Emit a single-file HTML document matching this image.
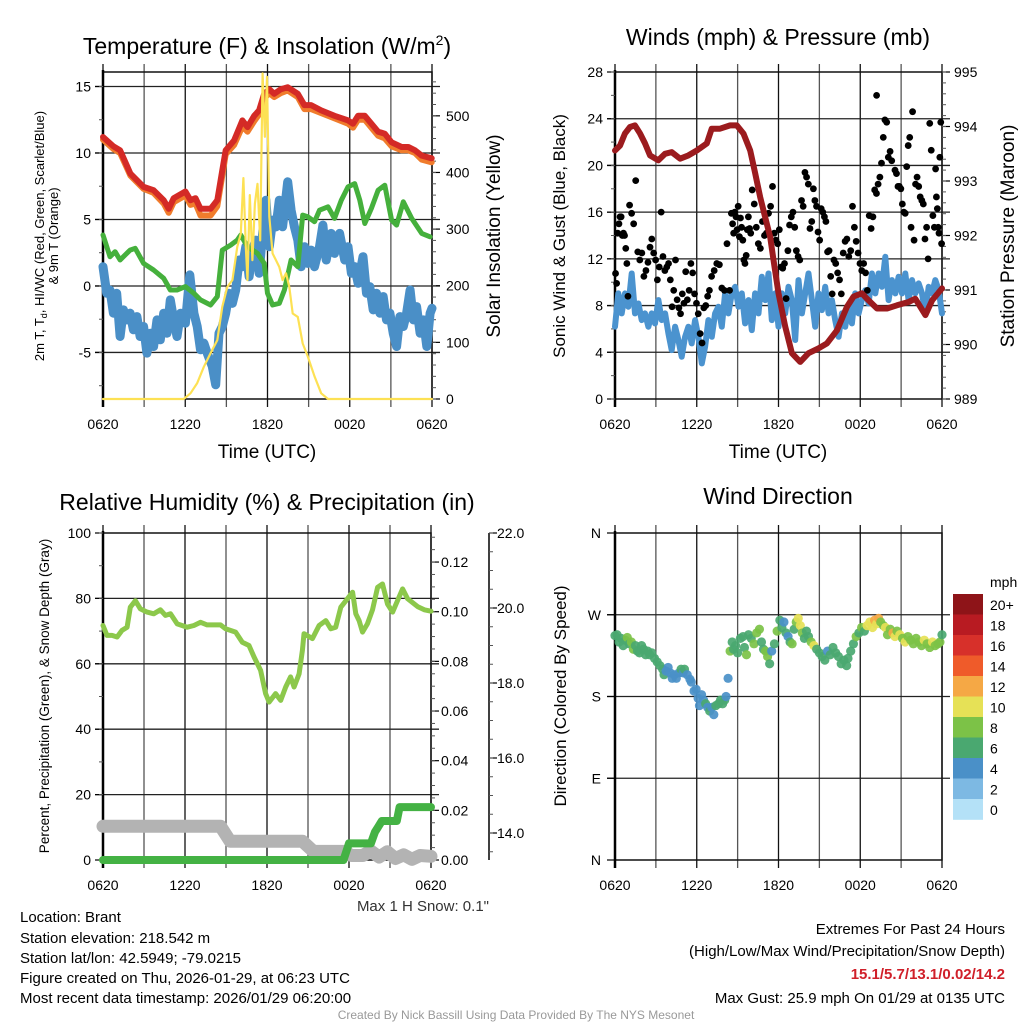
<!DOCTYPE html>
<html><head><meta charset="utf-8"><style>
html,body{margin:0;padding:0;background:#fff;}
svg{display:block;font-family:"Liberation Sans",Arial,sans-serif;}
</style></head><body>
<svg id="fig" width="1024" height="1024" viewBox="0 0 1024 1024" xmlns="http://www.w3.org/2000/svg">
<rect width="1024" height="1024" fill="#fff"/>
<text x="267" y="54" font-size="23" text-anchor="middle">Temperature (F) &amp; Insolation (W/m<tspan font-size="14" dy="-9">2</tspan><tspan dy="9">)</tspan></text>
<text x="778" y="45" font-size="23" text-anchor="middle">Winds (mph) &amp; Pressure (mb)</text>
<text x="267" y="510" font-size="23" text-anchor="middle">Relative Humidity (%) &amp; Precipitation (in)</text>
<text x="778" y="504" font-size="23" text-anchor="middle">Wind Direction</text>
<text x="267" y="458" font-size="19" text-anchor="middle">Time (UTC)</text>
<text x="778" y="458" font-size="19" text-anchor="middle">Time (UTC)</text>
<text transform="translate(44,236) rotate(-90)" font-size="13" text-anchor="middle">2m T, T<tspan font-size="9" dy="3">d</tspan><tspan dy="-3">, HI/WC (Red, Green, Scarlet/Blue)</tspan></text>
<text transform="translate(58,236) rotate(-90)" font-size="13" text-anchor="middle">&amp; 9m T (Orange)</text>
<text transform="translate(500,236) rotate(-90)" font-size="19" text-anchor="middle">Solar Insolation (Yellow)</text>
<text transform="translate(565,236) rotate(-90)" font-size="17" text-anchor="middle">Sonic Wind &amp; Gust (Blue, Black)</text>
<text transform="translate(1014,236) rotate(-90)" font-size="19" text-anchor="middle">Station Pressure (Maroon)</text>
<text transform="translate(49,696) rotate(-90)" font-size="13.5" text-anchor="middle">Percent, Precipitation (Green), &amp; Snow Depth (Gray)</text>
<text transform="translate(566,696) rotate(-90)" font-size="17" text-anchor="middle">Direction (Colored By Speed)</text>
<text x="489" y="911" font-size="15" text-anchor="end" fill="#333">Max 1 H Snow: 0.1"</text>
<g font-size="15">
<text x="20" y="922">Location: Brant</text>
<text x="20" y="943">Station elevation: 218.542 m</text>
<text x="20" y="963">Station lat/lon: 42.5949; -79.0215</text>
<text x="20" y="983">Figure created on Thu, 2026-01-29, at 06:23 UTC</text>
<text x="20" y="1003">Most recent data timestamp: 2026/01/29 06:20:00</text>
</g>
<g font-size="15" text-anchor="end">
<text x="1005" y="934">Extremes For Past 24 Hours</text>
<text x="1005" y="956">(High/Low/Max Wind/Precipitation/Snow Depth)</text>
<text x="1005" y="979" fill="#d0202a" font-weight="bold">15.1/5.7/13.1/0.02/14.2</text>
<text x="1005" y="1003">Max Gust: 25.9 mph On 01/29 at 0135 UTC</text>
</g>
<text x="516" y="1019" font-size="12" fill="#999" text-anchor="middle">Created By Nick Bassill Using Data Provided By The NYS Mesonet</text>
</svg>
<script>
// ---------- data ----------
const xTickLabels = ['0620','1220','1820','0020','0620'];
const xTickHours = [0,6,12,18,24];

const redHours = [0,0.76,1.25,2.0,2.96,3.69,4.43,4.79,5.16,6.01,6.38,6.75,7.11,7.85,8.34,8.70,8.95,9.56,10.17,10.54,11.03,11.39,11.76,12.13,12.49,12.98,13.47,14.21,14.69,15.18,15.92,16.89,17.87,18.24,18.61,19.1,19.58,20.07,20.56,21.05,21.78,22.27,22.76,23.25,23.98];
const redTemps = [11.2,10.5,10.2,8.45,7.45,7.2,6.45,5.8,6.6,7.1,6.45,6.6,5.8,5.8,6.45,8.7,10.2,10.95,12.45,11.95,12.8,13.2,14.45,14.8,14.45,14.8,14.95,14.45,13.6,13.6,13.2,12.8,12.45,12.2,12.8,12.8,12.2,11.6,11.45,10.8,10.45,10.45,10.2,9.8,9.6];
const orangeTemps = [11.0,10.3,10.0,8.3,7.3,7.0,6.2,5.5,6.3,6.8,6.1,6.2,5.3,5.3,6.0,8.3,9.9,10.6,12.0,11.6,12.4,12.9,14.1,14.5,14.2,14.5,14.7,14.2,13.3,13.3,13.0,12.6,12.2,11.9,12.5,12.5,11.9,11.3,11.1,10.5,10.2,10.2,10.0,9.5,9.3];

const greenHours = [0,0.51,0.88,1.25,1.61,1.98,2.35,2.96,3.69,4.43,4.91,5.40,6.01,6.63,7.11,7.85,8.34,8.70,9.32,9.80,10.05,10.54,11.27,11.76,12.0,12.37,12.86,13.23,13.72,14.21,14.57,14.94,15.43,15.79,16.41,16.89,17.38,17.87,18.36,18.73,19.1,19.58,20.07,20.56,21.05,21.42,21.91,22.52,23.25,23.86];
const greenTemps = [3.83,2.2,2.58,1.95,2.33,2.7,2.83,1.7,1.2,0.58,-0.3,-0.3,-0.05,-0.55,-1.05,-1.43,-0.8,2.7,3.08,3.45,3.83,2.95,2.45,1.7,-0.55,-1.43,-1.3,-0.3,1.95,1.45,5.33,5.2,4.83,5.7,5.95,5.08,6.45,7.45,7.7,6.45,4.7,5.83,7.2,7.58,4.95,4.58,6.33,5.08,3.95,3.7];

const blueHours = [0,0.27,0.51,0.76,1.0,1.25,1.49,1.74,1.98,2.22,2.47,2.71,2.96,3.2,3.45,3.69,3.94,4.18,4.43,4.67,4.91,5.16,5.4,5.65,6.01,6.33,6.63,6.87,7.11,7.36,7.6,7.97,8.22,8.46,8.7,8.95,9.19,9.44,9.68,9.93,10.17,10.42,10.66,10.9,11.15,11.39,11.64,11.88,12.13,12.37,12.62,12.86,13.1,13.47,13.72,13.96,14.21,14.45,14.69,14.94,15.18,15.43,15.79,16.04,16.28,16.65,16.89,17.26,17.63,17.87,18.12,18.36,18.61,18.97,19.22,19.46,19.71,19.95,20.2,20.44,20.68,20.93,21.17,21.42,21.66,21.91,22.15,22.4,22.64,22.88,23.13,23.37,23.62,23.86,24];
const blueTemps = [1.45,-0.55,-0.3,-2.05,-0.55,-3.8,-1.8,-2.55,-2.05,-3.3,-2.3,-3.8,-3.05,-5.05,-3.55,-4.55,-2.55,-4.05,-2.05,-3.55,-1.05,-2.55,-3.8,-2.05,-2.8,0.83,-2.05,-3.05,-4.8,-4.3,-5.05,-6.05,-7.43,-3.55,-3.05,-2.05,-0.55,-1.3,-0.3,1.95,1.45,2.95,0.7,2.7,3.45,0.95,3.95,6.45,2.95,4.95,4.45,6.45,4.45,7.83,5.7,4.45,3.45,1.45,2.95,1.7,2.7,1.45,2.95,4.58,1.95,3.95,2.45,3.95,1.95,2.95,0.95,1.45,0.2,2.2,-0.55,-0.05,-1.8,-0.55,-2.05,-0.8,-2.55,-2.05,-3.55,-4.55,-2.3,-3.05,-2.05,-0.3,-2.55,-1.55,-3.55,-2.55,-4.55,-2.05,-1.68];

const solarHours = [0,5.89,6.38,6.87,7.36,7.85,8.34,8.7,9.07,9.44,9.8,10.05,10.24,10.42,10.54,10.71,10.9,11.08,11.27,11.47,11.64,11.81,11.96,12.13,12.37,12.62,12.86,13.1,13.35,13.59,13.84,14.21,14.57,14.94,15.43,15.92,16.41,24];
const solarValues = [0,0,10,28,57,81,104,163,198,210,269,292,390,269,210,360,245,345,380,280,575,463,569,322,257,245,233,210,222,198,151,145,98,75,40,10,0,0];

const pressHours = [0,0.37,0.73,1.1,1.47,1.84,2.2,2.57,3.18,3.67,4.16,4.78,5.39,6.0,6.74,7.1,7.71,8.45,8.94,9.43,9.92,10.29,10.65,11.02,11.39,11.63,12.0,12.49,12.98,13.59,14.2,14.94,15.55,16.29,17.02,17.51,18.12,18.49,19.23,19.96,20.7,21.55,22.04,22.78,23.27,24];
const pressValues = [993.56,993.65,993.87,993.99,994.02,993.87,993.69,993.47,993.38,993.5,993.53,993.41,993.47,993.56,993.69,993.96,993.96,994.02,994.02,993.87,993.56,993.14,992.71,992.34,991.97,991.55,990.94,990.33,989.84,989.68,989.84,989.93,990.02,990.26,990.69,990.88,990.94,990.84,990.66,990.66,990.72,990.78,990.84,990.54,990.81,991.03];

const windSpeeds = [6.19,9.04,7.33,9.04,7.9,10.75,7.33,8.18,6.76,7.33,
6.19,7.33,6.47,8.47,6.76,7.33,5.62,4.19,6.19,5.05,
3.62,5.33,6.19,4.76,6.76,5.33,3.05,4.48,6.76,5.33,
7.33,7.9,6.19,9.04,7.33,9.04,9.61,7.9,9.04,6.47,
8.47,5.9,9.04,7.33,10.46,8.47,10.75,6.76,9.04,6.19,
9.04,7.33,9.61,8.47,5.05,10.18,7.33,9.04,10.75,8.47,
6.19,9.04,7.61,9.61,7.33,8.47,6.76,5.33,7.33,6.19,
7.9,6.47,9.04,7.33,8.47,9.32,8.18,10.75,9.04,10.75,
9.61,12.18,8.47,10.18,9.04,10.46,9.04,10.75,8.47,10.18,
9.04,9.9,9.04,7.33,9.61,9.04,10.18,9.32,7.33];

const gustHours = [0.04,0.12,0.2,0.29,0.37,0.45,0.54,0.62,0.7,0.79,0.87,0.95,
1.07,1.22,1.37,1.52,1.67,1.82,1.97,2.12,2.27,2.42,
2.57,2.7,2.84,2.98,3.11,3.25,3.39,3.52,3.66,3.8,3.93,
4.06,4.19,4.31,4.44,4.56,4.69,4.81,4.94,5.06,5.19,5.31,5.44,
5.57,5.7,5.84,5.98,6.11,6.25,6.39,6.52,6.66,6.8,6.93,
7.09,7.28,7.47,7.66,7.84,8.03,8.22,8.41,
8.54,8.63,8.71,8.79,8.88,8.96,9.04,9.13,9.21,9.29,9.38,9.46,9.54,9.63,9.71,9.79,9.88,9.96,
10.07,10.22,10.37,10.52,10.67,10.82,10.97,11.12,11.27,11.42,
11.56,11.69,11.81,11.94,12.06,12.19,12.31,12.44,12.56,12.69,12.81,12.94,
13.06,13.19,13.31,13.44,13.56,13.69,13.81,13.94,14.06,14.19,14.31,14.44,
14.56,14.67,14.79,14.9,15.02,15.13,15.25,15.37,15.48,15.6,15.71,15.83,15.94,
16.07,16.2,16.34,16.48,16.61,16.75,16.89,17.02,17.16,17.3,17.43,
17.57,17.7,17.84,17.98,18.11,18.25,18.39,18.52,18.66,18.8,18.93,
19.06,19.19,19.31,19.44,19.56,19.69,19.81,19.94,20.06,20.19,20.31,19.2,
20.55,20.66,20.77,20.87,20.98,21.09,21.2,21.3,21.41,21.52,21.63,21.73,21.84,21.95,
22.06,22.17,22.29,22.4,22.52,22.63,22.75,22.87,22.98,23.1,23.21,23.33,23.44,
23.53,23.59,23.66,23.72,23.78,23.84,23.91,23.97];
const gustSpeeds = [10.75,9.9,14.2,15.0,15.6,15.6,14.0,14.2,14.0,12.9,11.6,8.8,
16.6,15.9,15.0,18.7,12.6,11.9,12.5,10.5,11.0,11.7,
13.0,13.7,12.5,11.9,10.2,11.3,16.0,12.2,11.0,11.3,11.6,
10.2,7.9,9.3,11.9,8.5,7.8,7.3,9.0,8.2,10.9,8.5,9.3,
11.6,10.8,9.0,8.2,7.3,5.6,4.8,7.8,8.0,8.8,9.3,
10.5,11.0,11.6,11.5,9.5,9.3,13.3,9.3,
15.9,15.0,14.2,16.0,15.6,14.5,16.5,13.9,15.5,14.7,13.6,11.9,11.6,12.3,14.5,15.6,14.6,14.2,
17.9,16.7,14.7,13.3,12.9,15.2,14.0,14.2,15.9,16.5,
18.2,14.2,13.6,13.3,14.5,11.3,11.2,11.6,8.6,12.7,14.9,15.6,
16.0,14.7,12.7,12.2,11.9,17.0,16.5,19.4,19.0,18.4,14.6,15.2,
18.0,17.0,16.5,14.3,13.6,16.3,16.0,15.6,15.2,12.6,12.7,10.5,9.0,
11.9,11.6,10.8,10.2,9.0,12.5,13.5,13.7,12.2,12.7,16.5,
14.7,13.5,12.5,11.6,11.0,11.6,10.8,9.3,15.7,14.6,15.6,
17.9,17.6,18.4,19.0,20.2,22.4,23.9,23.7,20.7,21.2,20.4,26.0,
19.6,19.3,18.2,18.2,18.0,16.7,16.0,15.9,19.9,21.7,22.4,14.7,24.6,13.6,
18.4,19.0,18.2,17.3,17.0,16.7,13.7,14.7,12.0,23.6,21.3,15.7,14.7,
19.7,17.3,16.3,14.7,14.2,20.7,23.7,13.3];

const rhHours = [0,0.29,0.66,1.03,1.39,1.76,2.0,2.37,2.74,3.23,3.71,4.2,4.57,4.94,5.43,6.16,6.65,7.14,7.62,8.6,8.97,9.7,10.19,10.68,11.05,11.53,11.9,12.15,12.63,13.0,13.37,13.73,13.98,14.35,14.59,14.71,15.32,15.81,16.3,16.67,17.03,17.4,17.89,18.26,18.5,18.74,18.99,19.35,19.72,20.09,20.45,20.82,21.19,21.55,21.92,22.29,23.02,23.51,24];
const rhValues = [71.7,68.7,68.7,68.2,70.2,71.2,77.3,79.3,76.8,75.8,75.3,76.5,74.8,75.3,72.2,71.2,71.7,72.7,71.9,71.9,70.7,69.7,66.6,65.6,62.1,58.0,50.9,48.3,50.9,48.8,52.9,56.0,52.9,56.9,64.1,69.2,67.7,71.7,73.2,70.7,71.2,77.3,79.9,81.9,75.3,73.2,69.7,72.2,76.5,83.4,84.4,78.3,75.8,79.3,82.9,79.9,77.5,76.5,76.1];

const precipHours = [0,17.6,18.0,19.6,19.9,20.1,20.4,21.5,21.7,24];
const precipValues = [0,0,0.0067,0.0067,0.0113,0.013,0.0157,0.0157,0.0213,0.0213];

const snowHours = [0,8.6,9.3,14.6,15.4,17.6,18.2,19.0,19.6,20.2,20.8,21.4,22.0,22.6,23.2,24];
const snowDepths = [14.18,14.18,13.78,13.78,13.51,13.51,13.4,13.4,13.52,13.36,13.5,13.32,13.42,13.3,13.4,13.38];

const dirHours = [0,0.15,0.3,0.45,0.6,0.75,0.9,1.05,1.2,1.35,1.5,1.65,1.8,1.95,2.1,2.25,2.4,2.55,2.7,2.9,3.1,3.3,3.5,3.6,3.75,3.9,4.05,4.2,4.35,4.5,4.7,4.85,5.0,5.1,5.3,5.5,5.6,5.8,5.95,6.1,6.2,6.35,6.5,6.65,6.8,6.95,7.1,7.25,7.4,7.6,7.75,7.9,8.05,8.15,8.3,8.45,8.6,8.7,8.85,9.0,9.2,9.4,9.5,9.65,9.8,10.0,10.2,10.4,10.6,10.75,10.9,11.05,11.2,11.35,11.5,11.7,11.9,12.1,12.25,12.4,12.55,12.7,12.85,13.0,13.15,13.3,13.45,13.6,13.75,13.9,14.05,14.2,14.4,14.6,14.8,15.0,15.2,15.4,15.6,15.8,16.0,16.2,16.4,16.6,16.8,17.0,17.1,17.3,17.5,17.7,17.9,18.1,18.3,18.5,18.7,18.9,19.05,19.2,19.35,19.5,19.7,19.85,20.0,20.2,20.4,20.55,20.7,20.9,21.1,21.3,21.5,21.7,21.9,22.1,22.3,22.5,22.7,22.9,23.1,23.3,23.5,23.7,23.85,24.0];
const dirDegrees = [247,248,240,244,236,242,245,238,240,232,236,230,228,236,232,226,230,226,228,222,218,214,210,204,208,212,206,200,204,200,206,210,206,210,204,199,196,186,188,178,170,182,176,172,168,164,168,160,170,172,176,172,176,180,200,230,240,232,236,228,244,246,234,226,248,244,238,250,254,240,232,230,224,216,230,238,252,264,256,262,250,246,240,238,254,262,266,258,250,244,252,246,240,236,232,228,224,220,230,226,234,228,224,216,220,214,222,230,238,246,250,256,252,258,262,256,264,260,266,262,258,256,248,254,250,246,252,248,244,240,246,242,238,244,240,236,242,238,234,240,236,238,240,248];
const dirSpeeds = [6,6,7,7,6,7,8,7,9,9,7,6,6,7,6,6,7,7,6,6,6,7,6,6,4,5,4,4,5,4,5,6,5,6,5,4,4,4,4,4,4,5,5,6,5,6,5,4,6,7,6,6,6,4,5,9,6,7,7,6,7,6,7,8,6,7,8,9,9,6,7,8,8,7,5,7,9,6,6,5,7,5,6,9,7,8,10,11,8,7,6,6,8,10,7,6,6,6,5,6,6,7,6,6,6,6,7,6,6,8,7,9,7,10,11,10,12,10,13,9,8,10,9,8,12,10,9,10,9,10,8,9,8,9,9,8,10,9,8,10,9,8,9,6];

const speedColors = ['#b4e1f7','#7db9e3','#4a90c8','#4aa870','#7cc247','#e6e156','#f5a845','#ef5b2a','#d7302a','#b81b22','#8e1418'];
const speedLabels = ['0','2','4','6','8','10','12','14','16','18','20+'];

// ---------- helpers ----------
const NS='http://www.w3.org/2000/svg';
const svg=document.getElementById('fig');
function mk(tag,attrs,parent){const e=document.createElementNS(NS,tag);for(const k in attrs)e.setAttribute(k,attrs[k]);(parent||svg).appendChild(e);return e;}
function panel(x0,x1,y0,y1){return {x0,x1,y0,y1};}
const P1=panel(103,432,72,399), P2=panel(615,942,72,399), P3=panel(103,431,533,860), P4=panel(615,942,533,860);
function xs(p,h){return p.x0+(p.x1-p.x0)*h/24;}
function ys(p,v,lo,hi){return p.y1-(v-lo)/(hi-lo)*(p.y1-p.y0);}
function pathOf(p,hours,vals,lo,hi){let d='';for(let i=0;i<vals.length;i++){d+=(i?'L':'M')+xs(p,hours[i]).toFixed(1)+','+ys(p,vals[i],lo,hi).toFixed(1);}return d;}

function frame(p,name,hGridVals,lo,hi){
  const g=mk('g',{});
  
  
  for(let k=0;k<=8;k++){
    const x=p.x0+(p.x1-p.x0)*k/8;
    const l=mk('line',{x1:x,x2:x,y1:p.y0-8,y2:p.y1+8,stroke:(k%2?'#555':'#111'),'stroke-width':1.3},g);
    
    
  }
  hGridVals.forEach(v=>{
    const y=ys(p,v,lo,hi);
    const l=mk('line',{x1:p.x0-8,x2:p.x1+8,y1:y,y2:y,stroke:'#222','stroke-width':1.3},g);
    
    
  });
  const r=mk('rect',{x:p.x0,y:p.y0,width:p.x1-p.x0,height:p.y1-p.y0,fill:'none',stroke:'#111','stroke-width':1.5},g);
  
  
  const ax=mk('line',{x1:p.x0,x2:p.x0,y1:p.y0-2,y2:p.y1+8,stroke:'#000','stroke-width':2.5},g);
  
  
  xTickHours.forEach((h,i)=>{
    const t=mk('text',{x:xs(p,h),y:p.y1+30,'font-size':14,'text-anchor':'middle'},g);
    t.textContent=xTickLabels[i];
    
    
  });
}
function yTicks(p,side,vals,labels,lo,hi,name,minorStep,xOff,anchor){
  const g=mk('g',{});
  
  
  const ax= side==='left'?p.x0:p.x1;
  const dir= side==='left'?-1:1;
  vals.forEach((v,i)=>{
    const y=ys(p,v,lo,hi);
    const l=mk('line',{x1:ax,x2:ax+dir*8,y1:y,y2:y,stroke:'#000','stroke-width':1.2},g);
    
    
    const t=mk('text',{x:ax+dir*xOff,y:y+5,'font-size':14,'text-anchor':anchor},g);
    t.textContent=labels[i];
    
    
  });
  if(minorStep){
    const start=Math.ceil(lo/minorStep-1e-9)*minorStep;
    for(let v=start; v<=hi+1e-9; v+=minorStep){
      const y=ys(p,v,lo,hi);
      const l=mk('line',{x1:ax,x2:ax+dir*4,y1:y,y2:y,stroke:'#555','stroke-width':1},g);
      
      
    }
  }
}
function line(d,color,w,name,parent){
  const e=mk('path',{d:d,fill:'none',stroke:color,'stroke-width':w,'stroke-linejoin':'round','stroke-linecap':'round'},parent);
  
  
  return e;
}

// ---------- Panel 1 ----------
const T_LO=-8.5,T_HI=16.09,S_LO=0,S_HI=577.4;
frame(P1,'temperature-panel',[-5,0,5,10,15],T_LO,T_HI);
yTicks(P1,'left',[-5,0,5,10,15],['-5','0','5','10','15'],T_LO,T_HI,'temperature-y-ticks',2.5,12,'end');
yTicks(P1,'right',[0,100,200,300,400,500],['0','100','200','300','400','500'],S_LO,S_HI,'insolation-y-ticks',20,14,'start');
line(pathOf(P1,blueHours,blueTemps,T_LO,T_HI),'#4a8fc7',9,'windchill-line');
line(pathOf(P1,greenHours,greenTemps,T_LO,T_HI),'#45b03c',5,'dewpoint-line');
line(pathOf(P1,redHours,orangeTemps,T_LO,T_HI),'#f07c2c',6,'temp-9m-line');
line(pathOf(P1,redHours,redTemps,T_LO,T_HI),'#d42a26',6,'temp-2m-line');
line(pathOf(P1,solarHours,solarValues,S_LO,S_HI),'#fde154',2.2,'insolation-line');

// ---------- Panel 2 ----------
frame(P2,'wind-panel',[4,8,12,16,20,24],0,28);
yTicks(P2,'left',[0,4,8,12,16,20,24,28],['0','4','8','12','16','20','24','28'],0,28,'wind-y-ticks',2,12,'end');
yTicks(P2,'right',[989,990,991,992,993,994,995],['989','990','991','992','993','994','995'],989,995,'pressure-y-ticks',0.2,12,'start');
const windHours = windSpeeds.map((v,i)=>i*24/(windSpeeds.length-1));
line(pathOf(P2,windHours,windSpeeds,0,28),'#4b93cf',6,'sonic-wind-line');
const gustG=mk('g',{});


gustSpeeds.forEach((v,i)=>{
  const c=mk('circle',{cx:xs(P2,gustHours[i]),cy:ys(P2,v,0,28),r:3.4,fill:'#000'},gustG);
  
  
});
line(pathOf(P2,pressHours,pressValues,989,995),'#9b1b1e',6,'pressure-line');

// ---------- Panel 3 ----------
const PR_HI=0.1317, SD_LO=13.28, SD_HI=22;
frame(P3,'humidity-panel',[20,40,60,80],0,100);
yTicks(P3,'left',[0,20,40,60,80,100],['0','20','40','60','80','100'],0,100,'humidity-y-ticks',10,12,'end');
yTicks(P3,'right',[0,0.02,0.04,0.06,0.08,0.1,0.12],['0.00','0.02','0.04','0.06','0.08','0.10','0.12'],0,PR_HI,'precip-y-ticks',0.005,10,'start');
const P3b=panel(103,489,533,860);
const sdAxis=mk('line',{x1:489,x2:489,y1:533,y2:860,stroke:'#000','stroke-width':1.5});


yTicks(P3b,'right',[14,16,18,20,22],['14.0','16.0','18.0','20.0','22.0'],SD_LO,SD_HI,'snow-depth-y-ticks',0.5,8,'start');
line(pathOf(P3,snowHours,snowDepths,SD_LO,SD_HI),'#b3b3b3',13,'snow-depth-line');
line(pathOf(P3,precipHours,precipValues,0,PR_HI),'#44b244',8,'precip-line');
line(pathOf(P3,rhHours,rhValues,0,100),'#8cc84b',5,'humidity-line');

// ---------- Panel 4 ----------
frame(P4,'direction-panel',[90,180,270],0,360);
yTicks(P4,'left',[0,90,180,270,360],['N','E','S','W','N'],0,360,'direction-y-ticks',0,14,'end');
const dirG=mk('g',{});


dirDegrees.forEach((v,i)=>{
  const c=mk('circle',{cx:xs(P4,dirHours[i]),cy:ys(P4,v,0,360),r:4.6,fill:speedColors[Math.min(10,Math.floor(dirSpeeds[i]/2))],'fill-opacity':0.92},dirG);
  
  
});
const cb=mk('g',{});


const cbT=mk('text',{x:990,y:587,'font-size':14},cb);
cbT.textContent='mph';


for(let i=0;i<11;i++){
  const k=10-i;
  const y=594+i*20.5;
  const r=mk('rect',{x:953,y:y,width:30,height:20.8,fill:speedColors[k]},cb);
  
  
  const t=mk('text',{x:990,y:y+16,'font-size':14},cb);
  t.textContent=speedLabels[k];
  
  
}
</script>
</body></html>
